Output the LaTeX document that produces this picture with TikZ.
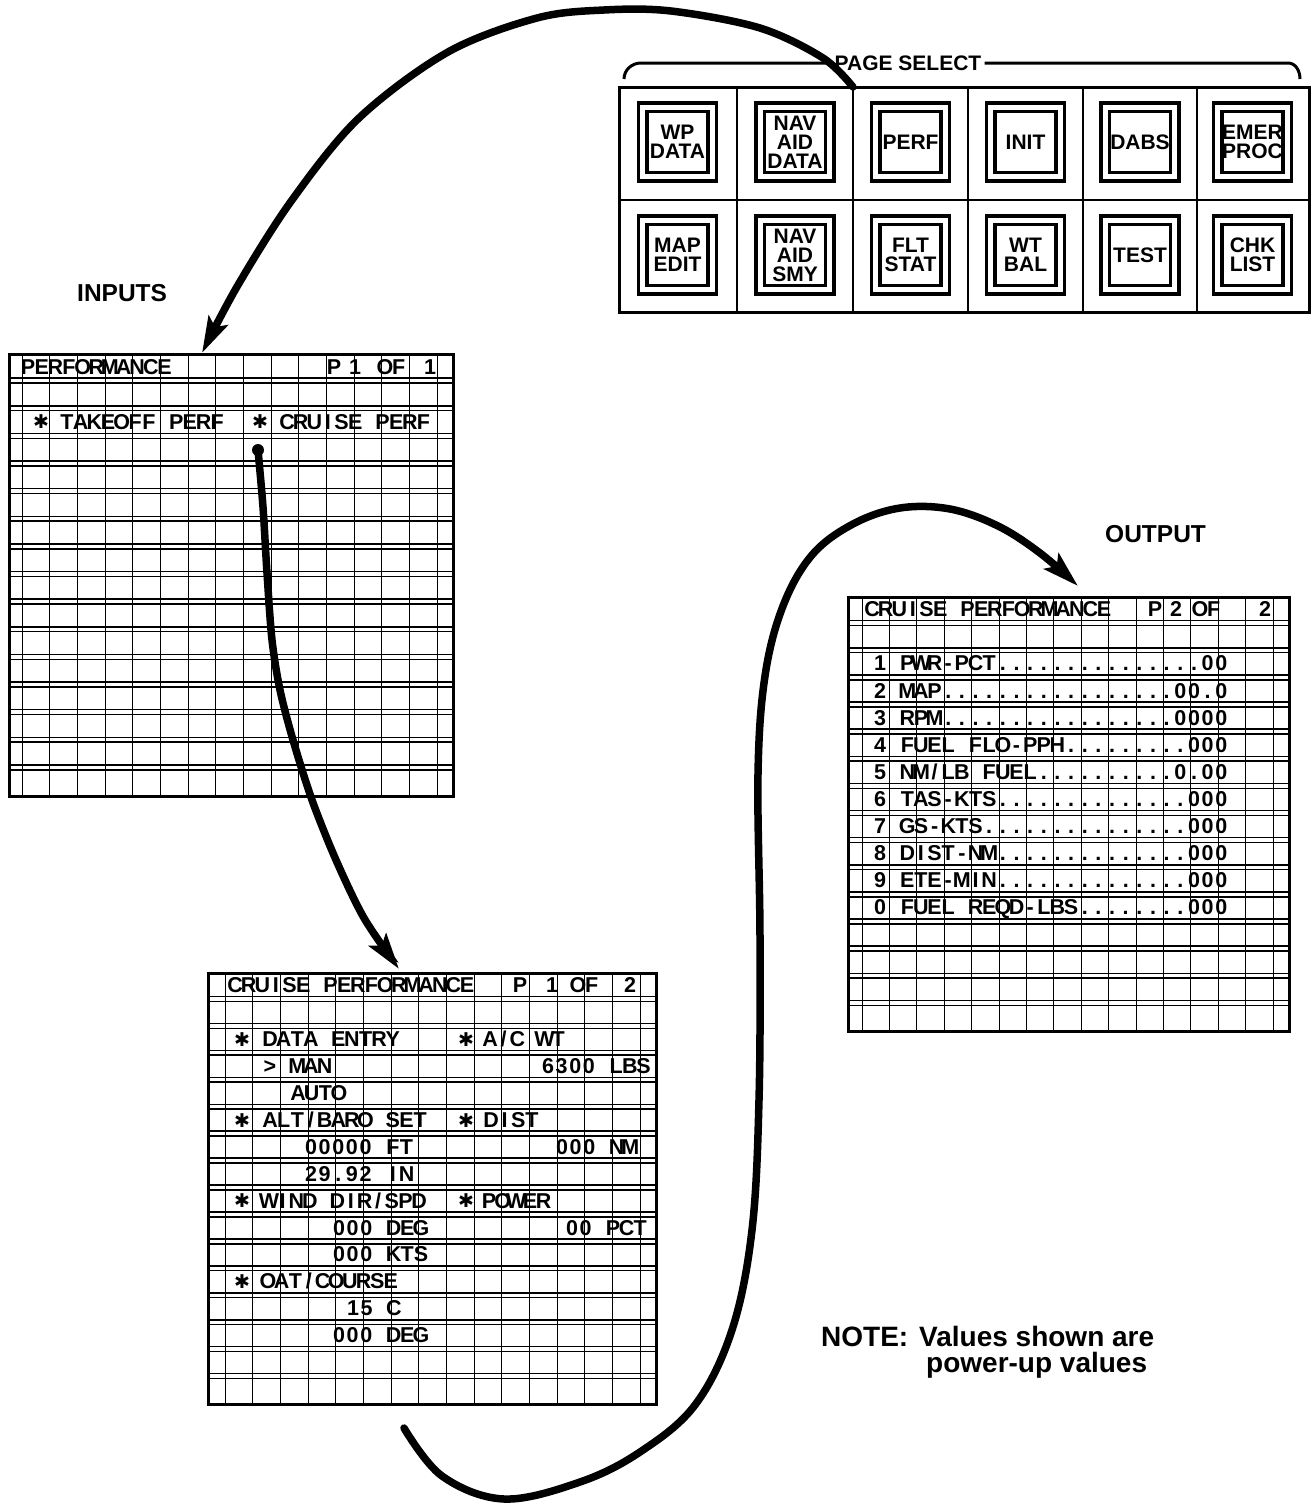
\documentclass[tikz,border=0pt]{standalone}
\usepackage{fontspec}
\setmainfont{Liberation Sans}
\newfontfamily\dvfont{DejaVu Sans}
\usetikzlibrary{arrows.meta}
\ExplSyntaxOn
\NewDocumentCommand\gridstr{m}{\str_map_inline:nn{#1}{\makebox[13.65pt][c]{##1}}}
\ExplSyntaxOff
\newcommand\mfdscreen[6]{%
  \pgfmathsetmacro\rh{(#4-#2)/16}%
  \foreach \k in {1,...,15}{%
    \draw[dbl] (#1,{#2+\k*\rh-2.4}) -- (#3,{#2+\k*\rh-2.4});
    \draw[dbl] (#1,{#2+\k*\rh+2.4}) -- (#3,{#2+\k*\rh+2.4});
  }%
  \foreach \k in {0,...,15}{%
    \draw[vl] ({#5+\k*#6},#2) -- ({#5+\k*#6},#4);
  }%
}
\tikzset{
  gt/.style={inner sep=0pt, anchor=base west, font=\fontsize{21.5}{21.5}\selectfont\bfseries},
  astk/.style={inner sep=0pt, font=\dvfont\fontsize{19}{19}\selectfont},
  dbl/.style={line width=1.5pt},
  vl/.style={line width=1pt},
  screen/.style={draw, line width=3.2pt, inner sep=0pt, anchor=north west},
  panel/.style={draw, line width=3.2pt, inner sep=0pt, anchor=north west},
  cell/.style={line width=2.6pt},
  btn/.style={draw, double, double distance=5pt, line width=3.6pt, minimum size=69.6pt, inner sep=0pt, align=center, font=\fontsize{21}{19}\selectfont\bfseries},
  flow/.style={line width=7.5pt, line cap=round, -{Stealth[length=36pt,width=21pt,inset=7pt]}},
  brk/.style={line width=3pt},
  head/.style={inner sep=0pt, anchor=west, font=\fontsize{24.5}{24.5}\selectfont\bfseries},
  note/.style={inner sep=0pt, anchor=base west, font=\fontsize{28}{28}\selectfont\bfseries},
}
\begin{document}
\begin{tikzpicture}[x=1pt,y=-1pt]
\useasboundingbox (0,0) rectangle (1314,1505);
\fill[white] (0,0) rectangle (1314,1505);

% ---------- PAGE SELECT panel ----------
\node[panel, minimum width=690pt, minimum height=225pt] (pnl) at (618,86) {};
\draw[cell] (pnl.west) -- (pnl.east);
\foreach \x in {737,853,968,1083,1197} \draw[cell] (\x,86) -- (\x,311);
\node[btn] (b1) at (677.5,142) {WP\\DATA};
\node[btn] (b2) at (795,142) {NAV\\AID\\DATA};
\node[btn] (b3) at (910.5,142) {PERF};
\node[btn] (b4) at (1025.5,142) {INIT};
\node[btn] (b5) at (1140,142) {DABS};
\node[btn] (b6) at (1252.5,142) {EMER\\PROC};
\node[btn] (b7) at (677.5,255) {MAP\\EDIT};
\node[btn] (b8) at (795,255) {NAV\\AID\\SMY};
\node[btn] (b9) at (910.5,255) {FLT\\STAT};
\node[btn] (b10) at (1025.5,255) {WT\\BAL};
\node[btn] (b11) at (1140,255) {TEST};
\node[btn] (b12) at (1252.5,255) {CHK\\LIST};
\node[inner sep=3pt, font=\fontsize{21}{21}\selectfont\bfseries] (ps) at (908,63) {PAGE SELECT};
\draw[brk] (ps.west) -- (641,63) to[out=180,in=90] (624,79);
\draw[brk] (ps.east) -- (1288,63) to[out=0,in=90] (1300,79);

% ---------- labels ----------
\node[head] (inlbl) at (77,293) {INPUTS};
\node[head] (outlbl) at (1105,534) {OUTPUT};
\node[note] (n1) at (821,1346) {NOTE:};
\node[note] (n2) at (919,1346) {Values shown are};
\node[note] (n3) at (926,1372) {power-up values};

% ---------- INPUTS screen ----------
\mfdscreen{8}{353}{452}{795}{22}{27.67}
\node[screen, minimum width=444pt, minimum height=442pt] (inp) at (8,353) {};
\node[gt] (i0a) at (21,374) {\gridstr{PERFORMANCE}};
\node[gt] (i0b) at (327,374) {\gridstr{P}};
\node[gt] (i0c) at (348,374) {\gridstr{1}};
\node[gt] (i0d) at (378,374) {\gridstr{OF}};
\node[gt] (i0e) at (423,374) {\gridstr{1}};
\node[astk] (i2s1) at (41,422) {✱};
\node[gt] (i2a) at (60,429) {\gridstr{TAKEOFF PERF}};
\node[astk] (i2s2) at (260,422) {✱};
\node[gt] (i2b) at (280,429) {\gridstr{CRUISE PERF}};

% ---------- CRUISE PERFORMANCE page 1 ----------
\mfdscreen{207}{972}{655}{1403}{225}{27.67}
\node[screen, minimum width=448pt, minimum height=431pt] (cp1) at (207,972) {};
\node[gt] (c0a) at (228,992.5) {\gridstr{CRUISE PERFORMANCE}};
\node[gt] (c0b) at (513,992.5) {\gridstr{P}};
\node[gt] (c0c) at (545,992.5) {\gridstr{1}};
\node[gt] (c0d) at (571,992.5) {\gridstr{OF}};
\node[gt] (c0e) at (623,992.5) {\gridstr{2}};
\node[astk] (c2s1) at (242,1039.3) {✱};
\node[gt] (c2a) at (263,1046.3) {\gridstr{DATA ENTRY}};
\node[astk] (c2s2) at (466,1039.3) {✱};
\node[gt] (c2b) at (483,1046.3) {\gridstr{A/C WT}};
\node[gt] (c3a) at (263,1073.3) {\gridstr{> MAN}};
\node[gt] (c3b) at (541,1073.3) {\gridstr{6300 LBS}};
\node[gt] (c4a) at (291,1100.2) {\gridstr{AUTO}};
\node[astk] (c5s1) at (242,1120.2) {✱};
\node[gt] (c5a) at (263,1127.2) {\gridstr{ALT/BARO SET}};
\node[astk] (c5s2) at (466,1120.2) {✱};
\node[gt] (c5b) at (484,1127.2) {\gridstr{DIST}};
\node[gt] (c6a) at (304,1154.1) {\gridstr{00000 FT}};
\node[gt] (c6b) at (555,1154.1) {\gridstr{000 NM}};
\node[gt] (c7a) at (304,1181.1) {\gridstr{29.92 IN}};
\node[astk] (c8s1) at (242,1201) {✱};
\node[gt] (c8a) at (262,1208) {\gridstr{WIND DIR/SPD}};
\node[astk] (c8s2) at (466,1201) {✱};
\node[gt] (c8b) at (482,1208) {\gridstr{POWER}};
\node[gt] (c9a) at (332,1235) {\gridstr{000 DEG}};
\node[gt] (c9b) at (565,1235) {\gridstr{00 PCT}};
\node[gt] (c10a) at (332,1261.9) {\gridstr{000 KTS}};
\node[astk] (c11s1) at (242,1281.9) {✱};
\node[gt] (c11a) at (261,1288.9) {\gridstr{OAT/COURSE}};
\node[gt] (c12a) at (346,1315.8) {\gridstr{15 C}};
\node[gt] (c13a) at (332,1342.8) {\gridstr{000 DEG}};

% ---------- CRUISE PERFORMANCE page 2 (output) ----------
\mfdscreen{847}{596}{1288}{1030}{862}{27.4}
\node[screen, minimum width=441pt, minimum height=434pt] (cp2) at (847,596) {};
\node[gt] (o0a) at (865,616.6) {\gridstr{CRUISE PERFORMANCE}};
\node[gt] (o0b) at (1148,616.6) {\gridstr{P}};
\node[gt] (o0c) at (1169,616.6) {\gridstr{2}};
\node[gt] (o0d) at (1193,616.6) {\gridstr{OF}};
\node[gt] (o0e) at (1258,616.6) {\gridstr{2}};
\node[gt] (o2) at (873,670.8) {\gridstr{1 PWR-PCT...............00}};
\node[gt] (o3) at (873,698) {\gridstr{2 MAP.................00.0}};
\node[gt] (o4) at (873,725.1) {\gridstr{3 RPM.................0000}};
\node[gt] (o5) at (873,752.2) {\gridstr{4 FUEL FLO-PPH.........000}};
\node[gt] (o6) at (873,779.3) {\gridstr{5 NM/LB FUEL..........0.00}};
\node[gt] (o7) at (873,806.4) {\gridstr{6 TAS-KTS..............000}};
\node[gt] (o8) at (873,833.6) {\gridstr{7 GS-KTS...............000}};
\node[gt] (o9) at (873,860.7) {\gridstr{8 DIST-NM..............000}};
\node[gt] (o10) at (873,887.8) {\gridstr{9 ETE-MIN..............000}};
\node[gt] (o11) at (873,914.9) {\gridstr{0 FUEL REQD-LBS........000}};

% ---------- flow arrows ----------
\coordinate (c1s) at (853,87);
\coordinate (c1e) at (202,353);
\draw[flow] plot[smooth, tension=0.55] coordinates {(c1s) (823,58) (760,28) (671,11) (604,10) (537,18) (448,52) (359,118) (292,200) (238,285) (c1e)};

\coordinate (c2s) at (258,450);
\coordinate (c2e) at (399,969);
\fill (c2s) circle (6pt);
\draw[flow] plot[smooth] coordinates {(c2s) (263,507) (267,573) (272,640) (280,690) (293,740) (312,800) (336,860) (364,918) (c2e)};

\coordinate (c3s) at (404,1428);
\coordinate (c3e) at (1078,586);
\draw[flow] plot[smooth, tension=0.6] coordinates {(c3s) (442,1476) (504,1499) (580,1482) (640,1452) (695,1405) (732,1330) (752,1230) (759,1100) (760,937) (758,774) (765,676) (783,606) (812,555) (853,524) (900,508) (950,509) (998,526) (1040,553) (c3e)};
\end{tikzpicture}
\end{document}
